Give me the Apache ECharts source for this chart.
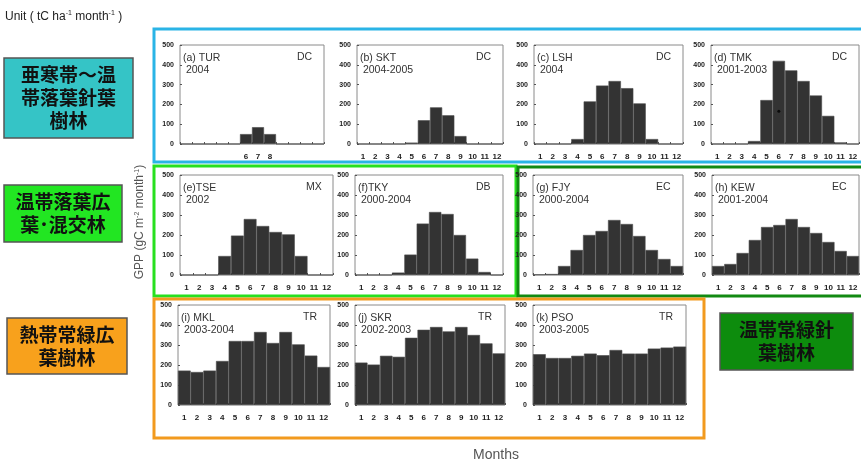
<!DOCTYPE html>
<head>
    <meta charset="utf-8">
    <title>GPP</title>
</head>
<body style="margin:0;background:#fff">

<div id="main" style="height:468px;width:861px"></div>
<script src="https://cdn.jsdelivr.net/npm/echarts@6/dist/echarts.min.js"></script>

<script type="text/javascript">
// 月 (x 軸)
var months = ['1','2','3','4','5','6','7','8','9','10','11','12'];
var yMin = 0, yMax = 500, yStep = 100;

// GPP (gC m-2 month-1) 各サイト
var turGpp = [0,0,0,0,0,50,85,50,0,0,0,0];
var sktGpp = [0,0,0,0,7,120,185,145,40,0,0,0];
var lshGpp = [0,0,0,25,215,295,318,282,205,25,0,0];
var tmkGpp = [0,0,0,15,222,420,372,318,245,142,8,0];
var tseGpp = [0,0,0,95,197,280,245,215,203,95,0,0];
var tkyGpp = [0,0,0,12,102,257,315,305,200,82,15,0];
var fjyGpp = [3,5,45,125,200,220,275,255,195,125,80,45];
var kewGpp = [45,55,110,175,240,250,280,240,210,165,120,95];
var mklGpp = [172,165,172,220,320,320,365,310,365,303,247,190];
var skrGpp = [212,202,246,241,336,376,390,368,390,350,308,258];
var psoGpp = [254,235,235,246,257,249,275,257,257,282,287,292];
var tmkDot = [['6', 165]];

var siteNames = ['(a) TUR','(b) SKT','(c) LSH','(d) TMK','(e)TSE','(f)TKY','(g) FJY','(h) KEW','(i) MKL','(j) SKR','(k) PSO'];
var siteYears = ['2004','2004-2005','2004','2001-2003','2002','2000-2004','2000-2004','2001-2004','2003-2004','2002-2003','2003-2005'];
var siteTypes = ['DC','DC','DC','DC','MX','DB','EC','EC','TR','TR','TR'];
var siteData = [turGpp,sktGpp,lshGpp,tmkGpp,tseGpp,tkyGpp,fjyGpp,kewGpp,mklGpp,skrGpp,psoGpp];

// パネル位置 [left, top, width, height]
var boxes = [
    [180,45,144,99],[357,45,146,99],[534,45,149,99],[711,45,148,99],
    [180,175,153,100],[355,175,148,100],[533,175,150,100],[712,175,147,100],
    [178,305,152,100],[355,305,150,100],[533,305,153,100]
];

var myChart = echarts.init(document.getElementById('main'));
var grids = [], xAxes = [], yAxes = [], series = [], graphics = [];

boxes.forEach(function(b, i){
    grids.push({left:b[0], top:b[1], width:b[2], height:b[3], show:true,
        borderColor:'#8a8a8a', borderWidth:1, backgroundColor:'#fff'});
    xAxes.push({type:'category', gridIndex:i, data:months,
        axisLine:{show:false}, axisTick:{show:true, inside:true, length:2, lineStyle:{color:'#555'}},
        axisLabel:{fontSize:8, fontWeight:'bold', color:'#222', margin:9, interval:0,
            fontFamily:'Liberation Sans',
            formatter: i === 0 ? function(v){ return (v==='6'||v==='7'||v==='8') ? v : ''; } : null}});
    yAxes.push({type:'value', gridIndex:i, min:yMin, max:yMax, interval:yStep,
        splitLine:{show:false}, axisLine:{show:false},
        axisTick:{show:true, inside:true, length:2, lineStyle:{color:'#555'}},
        axisLabel:{fontSize:7, fontWeight:'bold', color:'#222', margin:6, fontFamily:'Liberation Sans'}});
    series.push({type:'bar', xAxisIndex:i, yAxisIndex:i, data:siteData[i],
        barCategoryGap:'0%', itemStyle:{color:'#333', borderColor:'#4a4a4a', borderWidth:0.6}});
    graphics.push({type:'text', left:b[0]+3, top:b[1]+7,
        style:{text:siteNames[i] + '\n ' + siteYears[i], fill:'#333', font:'10.5px "Liberation Sans"', lineHeight:12}});
    graphics.push({type:'text', left:b[0]+b[2]-27, top:b[1]+7,
        style:{text:siteTypes[i], fill:'#333', font:'10.5px "Liberation Sans"'}});
});

series.push({type:'scatter', xAxisIndex:3, yAxisIndex:3, data:tmkDot, symbolSize:3,
    itemStyle:{color:'#000'}, z:5});

// 枠
function frame(x, y, w, h, c){
    return {type:'rect', shape:{x:x, y:y, width:w, height:h}, z:-1,
        style:{fill:null, stroke:c, lineWidth:3}};
}
graphics.push(frame(154, 29, 710, 133, '#2ab4e6'));
graphics.push(frame(154, 166, 362, 130, '#27e01f'));
graphics.push(frame(518, 167, 346, 129, '#128a12'));
graphics.push(frame(154, 299, 550, 139, '#f29a1e'));

// 凡例ボックス
function labelBox(x, y, w, h, fill, txt){
    graphics.push({type:'rect', shape:{x:x, y:y, width:w, height:h},
        style:{fill:fill, stroke:'#555', lineWidth:1.5}});
    graphics.push({type:'text', x:x + w/2, y:y + h/2,
        style:{text:txt, fill:'#111', font:'bold 19px "Noto Sans CJK JP"', align:'center',
            verticalAlign:'middle', lineHeight:23}});
}
labelBox(4, 58, 129, 80, '#35c4c6', '亜寒帯～温\n帯落葉針葉\n樹林');
labelBox(4, 185, 118, 57, '#22e622', '温帯落葉広\n葉･混交林');
labelBox(7, 318, 120, 56, '#f8a11c', '熱帯常緑広\n葉樹林');
labelBox(720, 313, 133, 57, '#0d8c0d', '温帯常緑針\n葉樹林');

graphics.push({type:'text', left:5, top:10,
    style:{text:'Unit ( tC ha{s|-1} month{s|-1} )', fill:'#222', font:'12px "Liberation Sans"',
        rich:{s:{fontSize:7, verticalAlign:'top', padding:[0,0,6,0]}}}});
graphics.push({type:'text', x:140, y:222, rotation:Math.PI/2,
    style:{text:'GPP (gC m{s|-2} month{s|-1})', fill:'#555', font:'12px "Liberation Sans"',
        align:'center', verticalAlign:'middle',
        rich:{s:{fontSize:7, padding:[0,0,6,0]}}}});
graphics.push({type:'text', x:496, y:455,
    style:{text:'Months', fill:'#555', font:'14px "Liberation Sans"', align:'center', verticalAlign:'middle'}});

option = {
    backgroundColor:'#fff',
    animation:false,
    grid:grids, xAxis:xAxes, yAxis:yAxes, series:series, graphic:graphics
};
myChart.setOption(option);
</script>
</body>
